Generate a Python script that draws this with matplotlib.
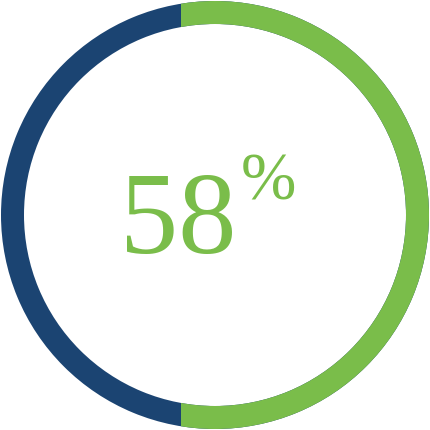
import numpy as np
import matplotlib
matplotlib.use("Agg")
import matplotlib.pyplot as plt
from matplotlib.patches import Wedge, Rectangle

GREEN = "#7ABD4A"
BLUE = "#1B4472"

value = 58          # percent shown
value_label = "58"
unit_label = "%"

W = 430
cx, cy = 215, 215
R = 214
ring_w = 23

fig = plt.figure(figsize=(4.3, 4.3), dpi=100, facecolor="white")
ax = fig.add_axes([0, 0, 1, 1])
ax.set_xlim(0, W)
ax.set_ylim(0, W)
ax.axis("off")

# full ring in blue, then green ring clipped to the right-hand share
ax.add_patch(Wedge((cx, cy), R, 0, 360, width=ring_w, facecolor=BLUE, edgecolor="none"))
split_x = cx + R - 2 * R * value / 100
green = Wedge((cx, cy), R, 0, 360, width=ring_w, facecolor=GREEN, edgecolor="none")
ax.add_patch(green)
clip = Rectangle((split_x, 0), W, W, transform=ax.transData)
green.set_clip_path(clip)

ax.text(178, 430 - 225, value_label, ha="center", va="center",
        fontsize=84, color=GREEN, family="Liberation Serif")
ax.text(268, 430 - 183, unit_label, ha="center", va="center",
        fontsize=48, color=GREEN, family="Liberation Serif")

fig.savefig("out.png", dpi=100, facecolor="white")
